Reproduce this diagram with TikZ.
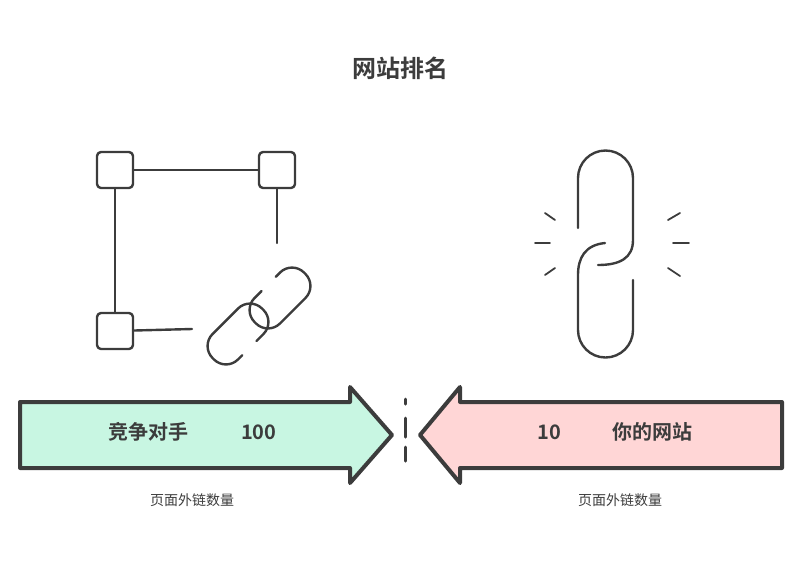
\documentclass[tikz,border=0pt]{standalone}
\usepackage{fontspec}
\newfontfamily\cjk{Noto Sans CJK SC}[BoldFont={Noto Sans CJK SC Bold}]
\usetikzlibrary{positioning}
\definecolor{ink}{RGB}{60,60,60}
\definecolor{mint}{RGB}{200,246,226}
\definecolor{rose}{RGB}{255,214,214}
\tikzset{
  sketch/.style={draw=ink,line width=2.4pt,line cap=round,line join=round},
  box/.style={sketch,rectangle,rounded corners=4pt,minimum size=36pt,inner sep=0pt},
  link/.style={sketch,rounded corners=17pt},
  big/.style={font=\cjk\bfseries\fontsize{20}{24}\selectfont,text=ink},
  small/.style={font=\cjk\fontsize{14}{17}\selectfont,text=ink}
}
\begin{document}
\begin{tikzpicture}[x=1pt,y=-1pt]
\useasboundingbox (0,0) rectangle (800,582);
\node[big,font=\cjk\bfseries\fontsize{24}{28}\selectfont] (title) at (400,68) {网站排名};
% network of pages
\node[box] (tl) at (115,170) {};
\node[box] (tr) at (277,170) {};
\node[box] (bl) at (115,331) {};
\coordinate (trend) at (277,243);
\coordinate (blend) at (192,329);
\draw[sketch] (tl) -- (tr);
\draw[sketch] (tl) -- (bl);
\draw[sketch] (tr) -- (trend);
\draw[sketch] (bl) -- (blend);
% chain beside it
\begin{scope}[shift={(280,298)},rotate=45]
  \draw[link] (-8,-18) -- (-35,-18) -- (-35,18) -- (35,18) -- (35,-18) -- (12,-18);
\end{scope}
\begin{scope}[shift={(238,334)},rotate=45]
  \draw[link] (8,18) -- (35,18) -- (35,-18) -- (-35,-18) -- (-35,18) -- (-12,18);
\end{scope}
% broken chain
\draw[sketch] (578,228) -- (578,178) arc (180:360:27.5) -- (633,240)
  .. controls (633,258) and (620,265) .. (598,265);
\draw[sketch] (605,243) .. controls (585,245) and (578,258) .. (578,275) -- (578,330)
  arc (180:0:27.5) -- (633,280);
\foreach \a/\b/\c/\d in {545/213/555/220, 535/243/550/243, 545/275/555/268,
                         668/220/680/213, 673/243/689/243, 668/268/680/276}
  \draw[sketch,line width=1.8pt] (\a,\b) -- (\c,\d);
% arrows
\draw[sketch,line width=4pt,fill=mint] (20,402) -- (350,402) -- (350,387) -- (392,435)
  -- (350,483) -- (350,468) -- (20,468) -- cycle;
\draw[sketch,line width=4pt,fill=rose] (782,402) -- (460,402) -- (460,387) -- (420,435)
  -- (460,483) -- (460,468) -- (782,468) -- cycle;
\draw[sketch,line width=3pt] (405,399) -- (405,404) (405,418) -- (405,437) (405,447) -- (405,461);
\node[big] (rival) at (148,432) {竞争对手};
\node[big,right=46pt of rival] (rivaln) {100};
\node[big] (mine) at (652,432) {你的网站};
\node[big,left=44pt of mine] (minen) {10};
\node[small] (rivall) at (192,500) {页面外链数量};
\node[small] (minel) at (620,500) {页面外链数量};
\end{tikzpicture}
\end{document}
